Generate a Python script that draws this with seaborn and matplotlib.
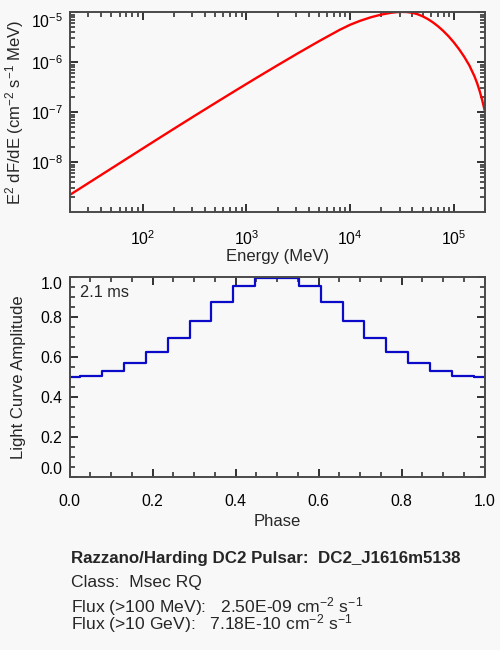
import matplotlib
matplotlib.use("Agg")
import matplotlib.pyplot as plt
import matplotlib.ticker as mticker
import seaborn as sns

# ---- data ----
energy_mev = [20, 31.62, 50.12, 79.43, 125.9, 199.5, 316.2, 501.2, 794.3,
              1259, 1995, 3162, 5012, 7943, 10000, 12590, 15850, 19950,
              25120, 28180, 31620, 35480, 39810, 44670, 50120, 56230, 63100,
              70790, 79430, 89130, 100000, 112200, 125900, 141300, 158500,
              167900, 177800, 188400, 200000]
e2_dfde = [2.239e-9, 4.102e-9, 7.534e-9, 1.384e-8, 2.541e-8, 4.645e-8,
           8.453e-8, 1.528e-7, 2.748e-7, 4.909e-7, 8.690e-7, 1.524e-6,
           2.636e-6, 4.457e-6, 5.623e-6, 6.792e-6, 7.943e-6, 8.995e-6,
           9.817e-6, 1.0069e-5, 1.0186e-5, 1.0116e-5, 9.772e-6, 9.173e-6,
           8.318e-6, 7.328e-6, 6.271e-6, 5.218e-6, 4.217e-6, 3.311e-6,
           2.512e-6, 1.841e-6, 1.296e-6, 8.660e-7, 5.218e-7, 3.825e-7,
           2.645e-7, 1.718e-7, 1.021e-7]

phase = [0.0, 0.0526, 0.1053, 0.1579, 0.2105, 0.2632, 0.3158, 0.3684, 0.4211,
         0.4737, 0.5263, 0.5789, 0.6316, 0.6842, 0.7368, 0.7895, 0.8421,
         0.8947, 0.9474, 1.0]
amplitude = [0.500, 0.507, 0.530, 0.570, 0.628, 0.698, 0.782, 0.878, 0.957,
             0.995, 0.995, 0.957, 0.878, 0.782, 0.698, 0.628, 0.570, 0.530,
             0.507, 0.500]

spec_yticks = [1e-8, 1e-7, 1e-6, 1e-5]
spec_yticklabels = ["$10^{-8}$", "$10^{-7}$", "$10^{-6}$", "$10^{-5}$"]
spec_xticks = [1e2, 1e3, 1e4, 1e5]
spec_xticklabels = ["$10^{2}$", "$10^{3}$", "$10^{4}$", "$10^{5}$"]
lc_ticks = [0.0, 0.2, 0.4, 0.6, 0.8, 1.0]
lc_ticklabels = ["0.0", "0.2", "0.4", "0.6", "0.8", "1.0"]

info_lines = [
    "Razzano/Harding DC2 Pulsar:  DC2_J1616m5138",
    "Class:  Msec RQ",
    "Flux (>100 MeV):   2.50E-09 cm$^{-2}$ s$^{-1}$",
    "Flux (>10 GeV):   7.18E-10 cm$^{-2}$ s$^{-1}$",
]
period_label = "2.1 ms"

# ---- style ----
sns.set_style("ticks")
bg = "#f8f8f8"
edge = "#4a4a4a"
tickc = "#222222"
plt.rcParams["font.family"] = ["Liberation Sans", "DejaVu Sans"]
plt.rcParams.update({
    "mathtext.fontset": "custom",
    "mathtext.rm": "Liberation Sans",
    "mathtext.it": "Liberation Sans:italic",
    "mathtext.bf": "Liberation Sans:bold",
    "mathtext.default": "regular",
    "axes.edgecolor": edge,
    "axes.linewidth": 1.4,
    "xtick.labelcolor": "black",
    "ytick.labelcolor": "black",
})

fig = plt.figure(figsize=(5, 6.5), dpi=100, facecolor=bg)
ax1 = fig.add_axes([70 / 500, 1 - 212.3 / 650, 415 / 500, 200 / 650], facecolor=bg)
ax2 = fig.add_axes([69.5 / 500, 1 - 477.3 / 650, 415 / 500, 200 / 650], facecolor=bg)

# ---- spectrum ----
sns.lineplot(x=energy_mev, y=e2_dfde, ax=ax1, color="#ff0000", lw=1.7,
             errorbar=None, sort=True)
ax1.set_xscale("log")
ax1.set_yscale("log")
ax1.set_xlim(20, 2e5)
ax1.set_ylim(1e-9, 1e-5)
ax1.set_xticks(spec_xticks, spec_xticklabels)
ax1.set_yticks(spec_yticks, spec_yticklabels)
ax1.xaxis.set_minor_locator(mticker.LogLocator(base=10, subs=range(2, 10), numticks=20))
ax1.yaxis.set_minor_locator(mticker.LogLocator(base=10, subs=range(2, 10), numticks=20))
ax1.xaxis.set_minor_formatter(mticker.NullFormatter())
ax1.yaxis.set_minor_formatter(mticker.NullFormatter())
ax1.set_xlabel("Energy (MeV)", fontsize=12)
ax1.set_ylabel("E$^{2}$ dF/dE (cm$^{-2}$ s$^{-1}$ MeV)", fontsize=12)

# ---- light curve ----
sns.lineplot(x=phase, y=amplitude, ax=ax2, color="#0a0ac8", lw=1.6,
             drawstyle="steps-mid", errorbar=None)
ax2.set_xlim(0, 1)
ax2.set_ylim(0, 1.0)
ax2.set_xticks(lc_ticks, lc_ticklabels)
ax2.set_yticks(lc_ticks, lc_ticklabels)
ax2.xaxis.set_minor_locator(mticker.MultipleLocator(0.05))
ax2.yaxis.set_minor_locator(mticker.MultipleLocator(0.05))
ax2.set_xlabel("Phase", fontsize=12)
ax2.set_ylabel("Light Curve Amplitude", fontsize=12)
ax2.text(0.026, 0.924, period_label, transform=ax2.transAxes, fontsize=11.8,
         ha="left", va="center")

for ax in (ax1, ax2):
    for s in ax.spines.values():
        s.set_visible(True)
        s.set_color(edge)
        s.set_linewidth(1.4)
    ax.tick_params(which="both", direction="in", top=True, right=True,
                   bottom=True, left=True, color=tickc, labelsize=11.3)
    ax.tick_params(which="major", length=6.0, width=1.3)
    ax.tick_params(which="minor", length=3.6, width=1.1)
    ax.tick_params(axis="x", which="major", pad=12)
    ax.tick_params(axis="y", which="major", pad=5)

ax1.xaxis.set_label_coords(0.5, -0.2235)
ax1.xaxis.label.set_va("center")
ax1.yaxis.set_label_coords(-0.1325, 0.5)
ax1.yaxis.label.set_va("center")
ax2.xaxis.set_label_coords(0.5, -0.2235)
ax2.xaxis.label.set_va("center")
ax2.yaxis.set_label_coords(-0.124, 0.5)
ax2.yaxis.label.set_va("center")

# IDL-like: keep end labels inside the axis range
ylabs1 = ax1.get_yticklabels()
ylabs1[-1].set_va("top")
ylabs2 = ax2.get_yticklabels()
ylabs2[0].set_va("bottom")
ylabs2[-1].set_va("top")

# ---- info text ----
ys = [562.7, 587.3, 612.7, 629.3]
for i, (line, ypx) in enumerate(zip(info_lines, ys)):
    fig.text(70.7 / 500, 1 - ypx / 650, line, fontsize=12.2 if i == 0 else 12.6,
             fontweight="bold" if i == 0 else "normal", ha="left",
             va="baseline")

fig.savefig("out.png", dpi=100, facecolor=bg)
